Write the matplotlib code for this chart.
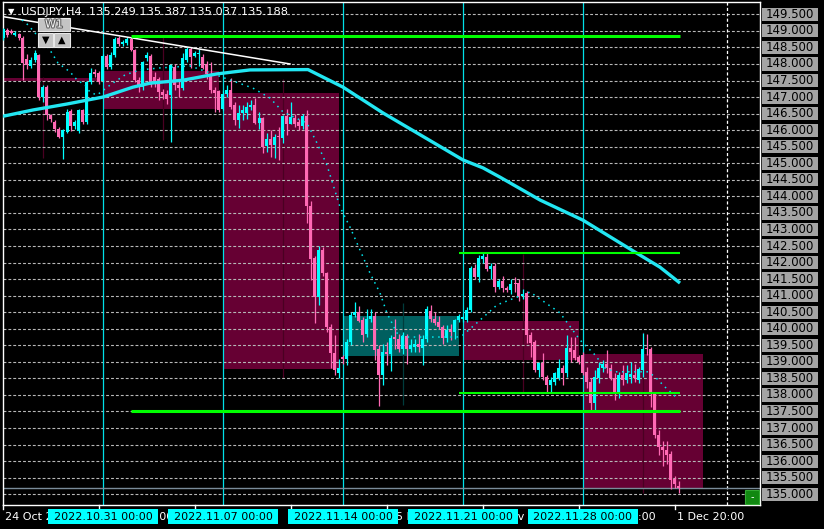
import matplotlib
matplotlib.use('Agg')
import matplotlib.pyplot as plt
from matplotlib.patches import Rectangle
import matplotlib.patheffects as pe
import numpy as np

# ---- data (H4 candles, index 0 = 24 Oct 20:00) ----
title = 'USDJPY,H4  135.249 135.387 135.037 135.188'

opens = [148.78, 149.03, 148.99, 148.88, 148.90, 148.79, 148.15, 147.95, 148.12, 148.27,
         147.00, 147.30, 146.46, 146.25, 146.05, 145.80, 145.95, 146.58, 146.13, 145.97,
         146.60, 146.25, 147.45, 147.75, 147.72, 147.50, 148.24, 147.92, 148.27, 148.78,
         148.60, 148.62, 148.75, 148.42, 147.52, 147.30, 148.18, 148.25, 147.60, 147.55,
         147.15, 147.10, 147.06, 147.90, 147.36, 147.27, 148.12, 148.45, 148.25, 148.30,
         148.20, 148.00, 147.70, 147.20, 147.18, 146.65, 147.10, 147.21, 146.76, 146.31,
         146.52, 146.52, 146.70, 146.76, 146.22, 146.38, 145.52, 145.72, 145.55, 145.83,
         145.77, 146.43, 146.20, 146.38, 146.25, 146.12, 146.43, 143.70, 142.13, 140.95,
         142.38, 141.68, 140.06, 139.27, 138.65, 139.15, 139.08, 139.60, 140.42, 140.52,
         140.26, 139.85, 140.28, 140.40, 139.40, 138.60, 139.30, 139.25, 139.75, 139.70,
         139.38, 139.78, 139.38, 139.45, 139.55, 139.42, 139.68, 140.55, 140.30, 140.20,
         140.05, 139.73, 139.96, 139.90, 140.26, 140.30, 140.26, 140.57, 141.84, 141.57,
         142.10, 142.18, 141.80, 141.90, 141.25, 141.45, 141.23, 141.18, 141.38, 141.38,
         141.00, 141.08, 139.81, 139.60, 138.76, 138.97, 138.55, 138.30, 138.40, 138.50,
         138.82, 138.66, 139.42, 139.35, 139.15, 139.20, 138.70, 138.40, 137.75, 138.50,
         138.80, 138.95, 138.80, 138.50, 138.07, 138.60, 138.45, 138.55, 138.60, 138.45,
         138.76, 139.42, 139.40, 138.05, 136.79, 136.43, 136.34, 136.22, 135.45, 135.249]
highs = [149.10, 149.08, 149.05, 149.00, 148.95, 148.85, 148.30, 148.20, 148.42, 148.30,
         147.35, 147.35, 146.50, 146.30, 146.10, 146.05, 146.65, 146.65, 146.30, 146.65,
         146.65, 147.50, 147.88, 147.85, 147.80, 148.30, 148.30, 148.35, 148.80, 148.85,
         148.72, 148.80, 148.82, 148.45, 147.60, 148.10, 148.35, 148.30, 147.75, 147.60,
         147.25, 147.20, 148.00, 148.00, 147.50, 148.33, 148.50, 148.50, 148.40, 148.45,
         148.30, 148.10, 148.05, 147.30, 147.22, 147.20, 147.36, 147.57, 146.85, 146.76,
         146.75, 146.85, 146.90, 146.97, 146.55, 146.40, 145.90, 146.00, 145.88, 146.10,
         146.45, 146.65, 146.85, 146.50, 146.35, 146.50, 146.60, 143.85, 142.20, 142.50,
         142.48, 141.72, 140.15, 139.80, 139.10, 139.20, 139.70, 140.50, 140.80, 140.70,
         140.35, 140.60, 140.60, 140.50, 139.50, 139.55, 139.60, 139.80, 140.30, 139.85,
         139.90, 139.85, 139.70, 139.70, 139.85, 139.80, 140.70, 140.73, 140.50, 140.40,
         140.10, 140.10, 140.15, 140.30, 140.45, 140.40, 140.65, 141.90, 141.95, 142.23,
         142.30, 142.30, 142.00, 142.00, 141.50, 141.60, 141.30, 141.50, 141.55, 141.50,
         141.20, 141.15, 139.90, 139.65, 139.00, 139.27, 138.60, 138.55, 138.70, 139.10,
         138.90, 139.80, 139.75, 139.75, 139.20, 139.30, 138.85, 138.50, 138.75, 139.00,
         139.05, 139.36, 138.95, 138.65, 138.70, 138.90, 138.90, 139.00, 138.95, 138.85,
         139.88, 139.85, 139.45, 138.10, 136.95, 136.60, 136.60, 136.30, 135.55, 135.387]
lows = [148.72, 148.82, 148.90, 148.85, 148.72, 147.52, 147.85, 147.88, 148.05, 146.90,
        146.85, 146.30, 146.25, 145.95, 145.75, 145.13, 145.90, 145.98, 146.05, 145.90,
        146.20, 146.20, 147.40, 147.60, 147.40, 147.45, 147.85, 147.85, 148.20, 148.55,
        148.55, 148.58, 148.38, 147.45, 147.15, 147.20, 148.10, 147.30, 147.30, 146.90,
        146.95, 146.80, 145.65, 147.20, 147.00, 147.20, 148.05, 147.88, 148.20, 147.95,
        147.85, 147.55, 147.12, 146.55, 146.55, 146.60, 147.00, 146.65, 146.15, 146.06,
        146.30, 146.35, 146.60, 146.20, 146.05, 145.31, 145.35, 145.19, 145.16, 145.10,
        145.60, 145.85, 146.20, 146.10, 146.00, 146.05, 143.19, 141.48, 140.18, 140.72,
        141.60, 139.90, 138.80, 138.60, 138.50, 138.95, 138.90, 139.50, 140.35, 140.20,
        139.60, 139.75, 140.20, 139.06, 137.67, 138.30, 138.90, 138.73, 139.40, 139.30,
        139.25, 138.95, 139.30, 139.30, 139.30, 138.90, 139.60, 140.20, 140.10, 140.00,
        139.55, 139.60, 139.65, 139.70, 140.20, 140.20, 140.20, 140.50, 141.50, 141.40,
        142.00, 141.75, 141.50, 141.10, 141.20, 141.10, 141.10, 141.05, 141.10, 140.85,
        140.90, 139.57, 139.15, 138.70, 138.55, 138.45, 138.07, 138.10, 138.30, 138.45,
        138.30, 138.55, 139.00, 139.05, 138.95, 138.60, 138.20, 137.55, 137.50, 138.35,
        138.70, 138.65, 138.45, 137.85, 137.90, 138.30, 138.35, 138.35, 138.40, 138.35,
        138.55, 139.20, 137.64, 136.70, 136.19, 135.85, 135.90, 135.15, 135.20, 135.037]
closes = [149.06, 148.87, 148.93, 148.95, 148.78, 148.02, 147.97, 148.12, 148.33, 147.00,
          147.30, 146.46, 146.33, 146.05, 145.80, 146.00, 146.56, 146.13, 146.25, 146.60,
          146.25, 147.45, 147.72, 147.70, 147.45, 148.24, 147.92, 148.27, 148.75, 148.60,
          148.67, 148.75, 148.42, 147.52, 147.36, 148.05, 148.28, 147.37, 147.40, 147.15,
          147.05, 146.95, 147.97, 147.36, 147.27, 148.18, 148.45, 148.20, 148.32, 148.33,
          147.88, 147.70, 147.20, 147.12, 146.61, 147.10, 147.20, 146.70, 146.31, 146.52,
          146.60, 146.70, 146.77, 146.22, 146.38, 145.50, 145.72, 145.55, 145.80, 145.80,
          146.43, 146.20, 146.40, 146.20, 146.12, 146.43, 143.70, 142.10, 140.95, 142.38,
          141.68, 140.06, 139.27, 138.76, 138.82, 139.08, 139.60, 140.42, 140.52, 140.24,
          139.82, 140.30, 140.40, 139.36, 138.60, 139.30, 139.25, 139.72, 139.68, 139.38,
          139.78, 139.38, 139.50, 139.55, 139.45, 139.68, 140.60, 140.30, 140.17, 140.05,
          139.73, 139.96, 139.90, 140.26, 140.38, 140.36, 140.57, 141.84, 141.57, 142.14,
          142.20, 141.81, 141.90, 141.25, 141.45, 141.23, 141.18, 141.35, 141.35, 141.00,
          141.05, 139.81, 139.57, 138.76, 138.97, 138.55, 138.30, 138.45, 138.66, 138.82,
          138.66, 139.42, 139.30, 139.12, 139.00, 138.65, 138.40, 137.75, 138.54, 138.80,
          138.95, 138.80, 138.50, 138.07, 138.60, 138.45, 138.67, 138.62, 138.50, 138.79,
          139.40, 139.38, 138.07, 136.79, 136.43, 136.34, 136.19, 135.43, 135.30, 135.188]

# weekly (W1) candles drawn as boxes
week_start = [-5, 25, 55, 85, 115, 145]
week_end = [24, 54, 84, 114, 144, 175]
week_open = [147.59, 147.79, 147.13, 139.17, 140.24, 139.24]
week_close = [147.48, 146.64, 138.78, 140.39, 139.06, 135.20]
week_high = [147.60, 148.80, 147.55, 140.78, 142.25, 139.90]
week_low = [145.15, 145.71, 138.50, 137.70, 138.10, 135.04]
week_sep = [25, 55, 85, 115, 145]
week_labels = ['2022.10.31 00:00', '2022.11.07 00:00', '2022.11.14 00:00',
               '2022.11.21 00:00', '2022.11.28 00:00']

# slow MA (thick cyan) vertices
ma_idx = [0, 7.5, 16, 25, 32.5, 36.75, 45, 53.5, 61.75, 76.25, 85, 95, 115, 120,
          124.25, 134.25, 145, 158.5, 164.25, 169.25]
ma_val = [146.42, 146.61, 146.79, 147.00, 147.30, 147.42, 147.51, 147.70, 147.82, 147.83,
          147.30, 146.52, 145.10, 144.86, 144.58, 143.89, 143.28, 142.28, 141.86, 141.38]

# fast MA (dotted) vertices
dot_idx = [4.75, 6.25, 11.75, 13.75, 16.75, 18.5, 20.5, 21.75, 23.5, 26.75, 30.5, 34.25,
           39.25, 46.75, 52.5, 62.5, 66.75, 70, 76, 78.5, 81, 84.25, 86.75, 89.25, 91.75,
           94.25, 96, 98.5, 100.5, 106.75, 113.5, 115, 119.25, 123.5, 131.75, 139.25,
           144.25, 148.5, 149.75, 153, 161.25, 163, 165.5, 168.5]
dot_val = [149.33, 149.18, 148.42, 148.03, 147.76, 147.52, 147.36, 147.15, 147.06, 147.36,
           147.67, 147.82, 147.88, 147.94, 147.70, 147.27, 146.97, 146.55, 146.21, 145.61,
           144.94, 143.68, 143.07, 142.38, 141.68, 141.08, 140.47, 139.87, 139.75, 139.75,
           139.75, 139.81, 140.26, 140.72, 141.11, 140.48, 139.66, 139.15, 138.85, 138.70,
           138.70, 138.55, 138.24, 137.91]

# white trend line
trend_idx = [0, 71.75]
trend_val = [149.43, 148.00]

# green levels: price, start index, end index, width
green_price = [148.84, 142.29, 138.06, 137.52]
green_start = [32, 114, 114, 32]
green_end = [169.25, 169.25, 169.25, 169.25]
green_lw = [2.2, 1.5, 1.5, 2.2]

bid = 135.188
shift_idx = 181
price_levels = np.arange(135.0, 149.51, 0.5)

time_ticks = [0, 24, 48, 72, 96, 120, 144, 168]
time_labels = ['24 Oct 2022', '28 Oct 20:00', '3 Nov 20:00', '9 Nov 20:00',
               '15 Nov 20:00', '21 Nov 20:00', '25 Nov 20:00', '1 Dec 20:00']

# ---- drawing ----
W, H = 824, 529
fig = plt.figure(figsize=(W / 100, H / 100), dpi=100)
fig.patch.set_facecolor('black')
ax = fig.add_axes([2.5 / W, 24 / H, 757.5 / W, 503 / H])
ax.set_facecolor('black')
ax.set_xlim(-0.125, 189.25)
ax.set_ylim(134.675, 149.872)
ax.set_xticks([])
ax.set_yticks([])
for s in ax.spines.values():
    s.set_color('white')
    s.set_linewidth(1)

bull_c = '#00ffff'
bear_c = '#ff69b4'

# weekly boxes
for k in range(len(week_start)):
    up = week_close[k] >= week_open[k]
    fc = '#005f5f' if up else '#660033'
    wc = '#003c3c' if up else '#4a0022'
    lo = min(week_open[k], week_close[k])
    ax.add_patch(Rectangle((week_start[k], lo), week_end[k] - week_start[k],
                           abs(week_close[k] - week_open[k]), facecolor=fc,
                           edgecolor='none', zorder=1, antialiased=False))
    ax.vlines(week_start[k] + 15, week_low[k], week_high[k], color=wc, lw=0.9,
              zorder=1.2)

# grid
for p in price_levels:
    ax.axhline(p, color='#b8b8b8', lw=0.8, dashes=(2.6, 1.8), zorder=2)
for s in week_sep:
    ax.axvline(s, color='#00e0e8', lw=0.9, zorder=2)
ax.axvline(shift_idx, color='white', lw=0.9, dashes=(2.5, 1.8), zorder=2)
ax.axhline(bid, color='#7a8b99', lw=1.0, zorder=2.5)

# candles
n = len(closes)
for i in range(n):
    o, h, l, c = opens[i], highs[i], lows[i], closes[i]
    col = bull_c if c >= o else bear_c
    ax.vlines(i, l, h, color=col, lw=0.9, zorder=3)
    body = max(abs(c - o), 0.035)
    ax.add_patch(Rectangle((i - 0.375, min(o, c)), 0.75, body, facecolor=col,
                           edgecolor='none', zorder=3.1, antialiased=False))

# lines
ax.plot(trend_idx, trend_val, color='white', lw=1.1, zorder=4)
ax.plot(dot_idx, dot_val, color='#00e8f0', lw=1.1, dashes=(1, 3), zorder=4)
ax.plot(ma_idx, ma_val, color='#22e6f2', lw=2.4, zorder=4.5, solid_capstyle='butt')
for k in range(len(green_price)):
    ax.hlines(green_price[k], green_start[k], green_end[k], color='#00ff00',
              lw=green_lw[k], zorder=5)

# price scale labels
yt = ax.get_yaxis_transform()
for p in price_levels:
    ax.add_patch(Rectangle((1.0026, p - 0.2), 0.0739, 0.4, transform=yt,
                           facecolor='#a4a4a4', edgecolor='none', clip_on=False))
    ax.text(1.0396, p, '%.3f' % p, transform=yt, ha='center', va='center',
            color='black', fontsize=8.5, clip_on=False)

# time scale
xt = ax.get_xaxis_transform()
for t, lab in zip(time_ticks, time_labels):
    ax.plot([t, t], [0, -4 / 503], color='white', lw=1, transform=xt, clip_on=False)
    ax.text(t + 0.4, -12 / 503, lab, transform=xt, ha='left', va='center',
            color='white', fontsize=8, clip_on=False)
for s, lab in zip(week_sep, week_labels):
    ax.add_patch(Rectangle((s - 13.75, -19 / 503), 27.5, 15 / 503, transform=xt,
                           facecolor='#00ffff', edgecolor='none', clip_on=False, zorder=6))
    ax.text(s, -12 / 503, lab, transform=xt, ha='center', va='center',
            color='black', fontsize=8, clip_on=False, zorder=7)

# header
fig.text(8 / W, 1 - 12 / H, '\u25bc', color='white', fontsize=6, va='center')
fig.text(21 / W, 1 - 12 / H, title, color='white', fontsize=8.2, va='center')

# W1 buttons
def px_rect(x0, y0, x1, y1, **kw):
    fig.add_artist(Rectangle((x0 / W, 1 - y1 / H), (x1 - x0) / W, (y1 - y0) / H,
                             transform=fig.transFigure, **kw))

px_rect(38, 18, 70, 31, facecolor='#c4c4c4', edgecolor='#e8e8e8', lw=0.8)
px_rect(38, 33, 53, 47, facecolor='#c4c4c4', edgecolor='#e8e8e8', lw=0.8)
px_rect(54, 33, 70, 47, facecolor='#c4c4c4', edgecolor='#e8e8e8', lw=0.8)
fig.text(54 / W, 1 - 24.5 / H, 'W1', color='#f4f4f4', fontsize=8, ha='center',
         va='center', path_effects=[pe.withStroke(linewidth=1.5, foreground='#606060')])
fig.text(45.5 / W, 1 - 40 / H, '\u25bc', color='black', fontsize=7, ha='center', va='center')
fig.text(62 / W, 1 - 40 / H, '\u25b2', color='black', fontsize=7, ha='center', va='center')

# small green button bottom right
px_rect(745, 490, 759, 504, facecolor='#118811', edgecolor='#33aa33', lw=0.8)
fig.text(752 / W, 1 - 497 / H, '-', color='white', fontsize=7, ha='center', va='center')

fig.savefig('out.png', dpi=100, facecolor=fig.get_facecolor())
